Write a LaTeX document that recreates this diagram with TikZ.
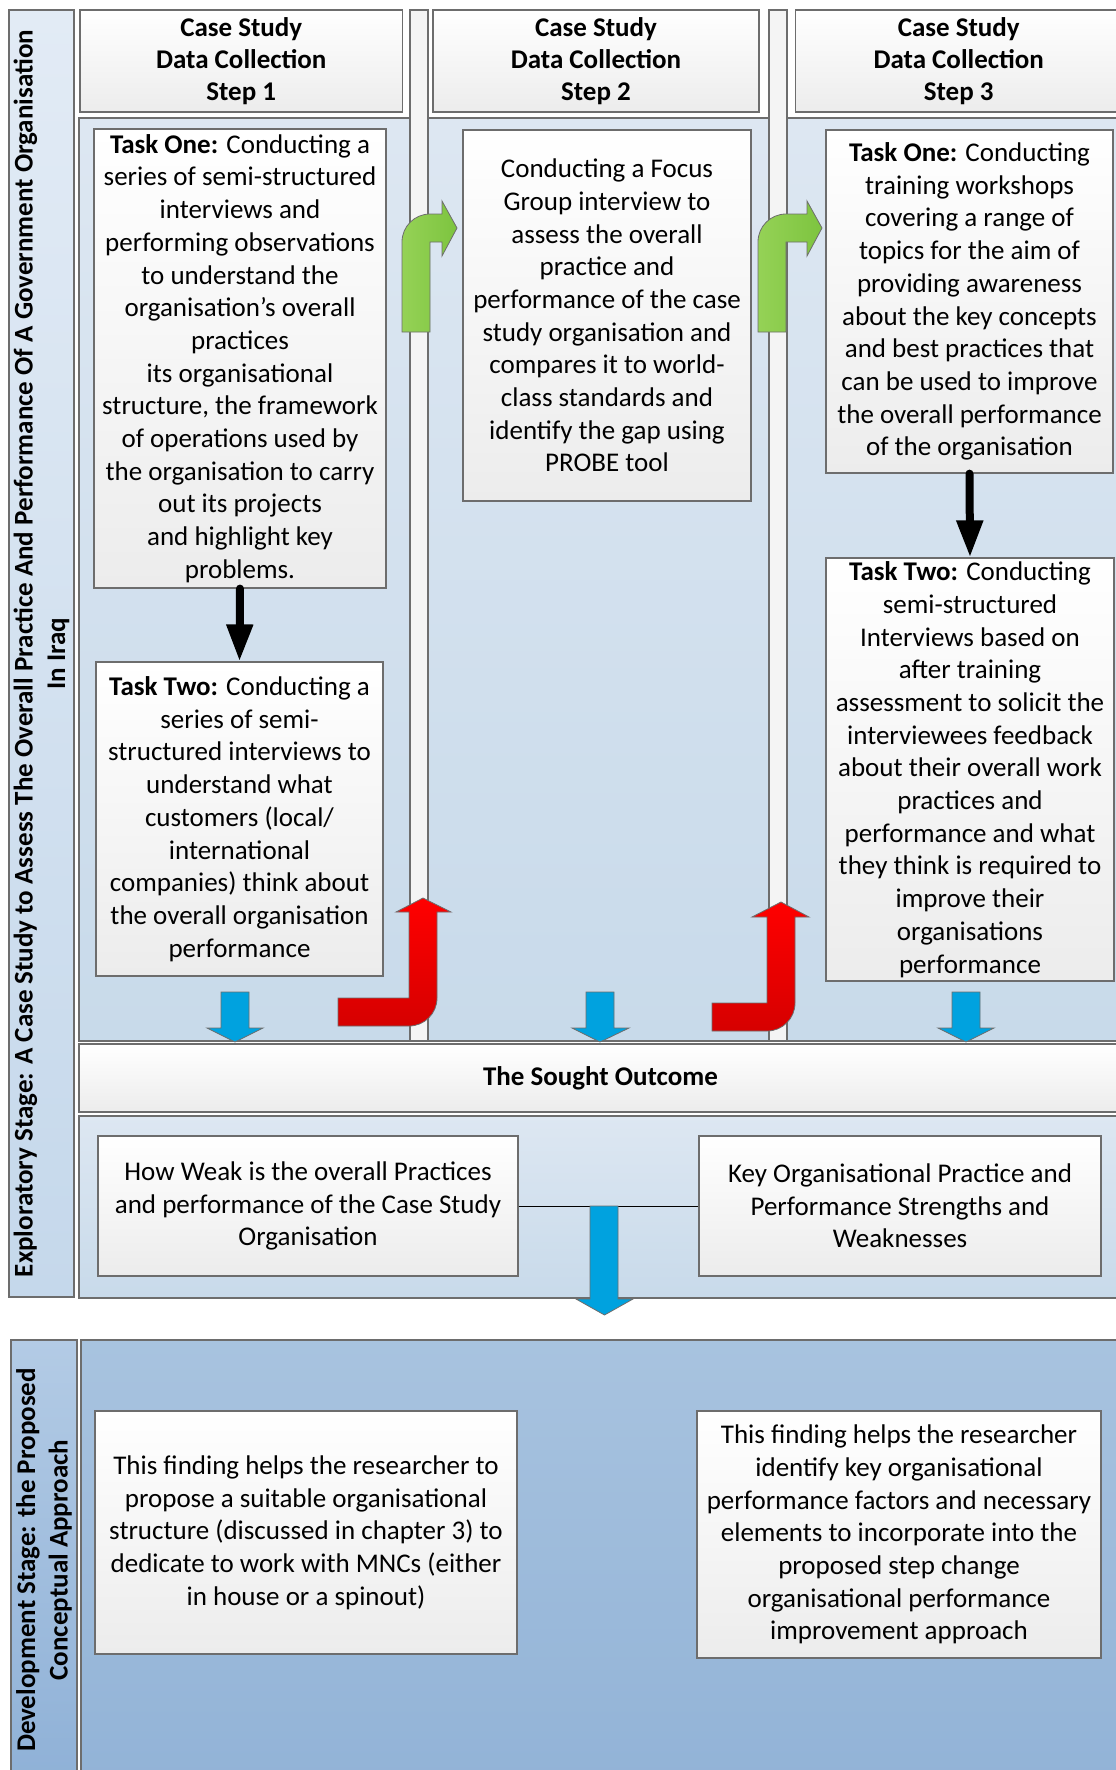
\documentclass[tikz,border=0pt]{standalone}
\usepackage{fontspec}
\setmainfont{Carlito}
\usetikzlibrary{arrows.meta}

\definecolor{edge}{HTML}{6D6D6D}
\definecolor{laneT}{HTML}{DDE7F2}
\definecolor{laneB}{HTML}{C8DAEA}
\definecolor{barL}{HTML}{E2EBF5}
\definecolor{barR}{HTML}{C5D8EB}
\definecolor{devL}{HTML}{B3CBE5}
\definecolor{devR}{HTML}{8FB1D7}
\definecolor{devT}{HTML}{A8C3DF}
\definecolor{devB}{HTML}{92B3D7}
\definecolor{boxT}{HTML}{FFFFFF}
\definecolor{boxB}{HTML}{ECECEC}
\definecolor{sepfill}{HTML}{F4F4F4}
\definecolor{grnL}{HTML}{95D256}
\definecolor{grnR}{HTML}{7DC43F}
\definecolor{redT}{HTML}{FF0000}
\definecolor{redB}{HTML}{D60000}
\definecolor{blu}{HTML}{00A2DF}

\tikzset{
  txt/.style={font=\fontsize{27}{32.7}\selectfont},
  panel/.style={draw=edge, line width=1.2pt},
  card/.style={panel, top color=boxT, bottom color=boxB, inner sep=0pt, align=center, txt},
  headcard/.style={card, font=\fontsize{27}{32.2}\selectfont\bfseries},
  lanefill/.style={panel, top color=laneT, bottom color=laneB},
  sepbar/.style={panel, fill=sepfill},
  stagebar/.style={panel, inner sep=0pt, align=center, font=\fontsize{27}{32.7}\selectfont\bfseries},
  blockarrow/.style={draw=edge, line width=0.8pt, line join=miter},
  linkarrow/.style={line width=8pt, line cap=round, -{Triangle[length=37pt,width=25pt]}},
}

\begin{document}
\begin{tikzpicture}[x=1pt,y=-1pt]
\useasboundingbox (0,0) rectangle (1116,1770);
\clip (0,0) rectangle (1116,1770);
\fill[white] (0,0) rectangle (1116,1770);

% ---------- exploratory stage ----------
\node[stagebar, rotate=90, minimum width=1287pt, minimum height=65pt,
      top color=barL, bottom color=barR] (explab) at (41.5,653.5)
  {Exploratory Stage: A Case Study to Assess The Overall Practice And Performance Of A Government Organisation\\In Iraq};

% lane bodies
\path[lanefill] (79,118) rectangle (410,1041);
\path[lanefill] (428,118) rectangle (769,1041);
\path[lanefill] (787,118) rectangle (1122,1041);

% separators between lanes
\path[sepbar] (410,10) rectangle (428,1041);
\path[sepbar] (769,10) rectangle (787,1041);

% lane headers
\node[headcard, minimum width=322.5pt, minimum height=102pt] (h1) at (241.25,61)
  {Case Study\\Data Collection\\Step 1};
\node[headcard, minimum width=326pt, minimum height=102pt] (h2) at (596,61)
  {Case Study\\Data Collection\\Step 2};
\node[headcard, minimum width=326.5pt, minimum height=102pt] (h3) at (958.75,61)
  {Case Study\\Data Collection\\Step 3};

% step 1 tasks
\node[card, minimum width=292pt, minimum height=459pt] (s1a) at (240,358.5)
  {\textbf{Task One:} Conducting a\\series of semi-structured\\interviews and\\performing observations\\to understand the\\organisation’s overall\\practices\\its organisational\\structure, the framework\\of operations used by\\the organisation to carry\\out its projects\\and highlight key\\problems.};
\node[card, minimum width=287pt, minimum height=314pt] (s1b) at (239.5,819)
  {\textbf{Task Two:} Conducting a\\series of semi-\\structured interviews to\\understand what\\customers (local/\\international\\companies) think about\\the overall organisation\\performance};

% step 2 task
\node[card, minimum width=288pt, minimum height=371pt] (s2a) at (607,315.5)
  {Conducting a Focus\\Group interview to\\assess the overall\\practice and\\performance of the case\\study organisation and\\compares it to world-\\class standards and\\identify the gap using\\PROBE tool};

% step 3 tasks
\node[card, minimum width=287pt, minimum height=343pt] (s3a) at (969.5,301.5)
  {\textbf{Task One:} Conducting\\training workshops\\covering a range of\\topics for the aim of\\providing awareness\\about the key concepts\\and best practices that\\can be used to improve\\the overall performance\\of the organisation};
\node[card, minimum width=288pt, minimum height=423pt] (s3b) at (970,769.5)
  {\textbf{Task Two:} Conducting\\semi-structured\\Interviews based on\\after training\\assessment to solicit the\\interviewees feedback\\about their overall work\\practices and\\performance and what\\they think is required to\\improve their\\organisations\\performance};

% task-to-task links
\draw[linkarrow] (s1a.south) -- (s1b.north);
\draw[linkarrow] (s3a.south) -- (s3b.north);

% green block arrows: step to step
\path[blockarrow, left color=grnL, right color=grnR]
  (402,332) -- (402,242) .. controls (402,226.5) and (414.5,214) .. (430,214)
  -- (442,214) -- (442,201) -- (457,228) -- (442,256) -- (442,242)
  -- (430,242) -- (430,332) -- cycle;
\path[blockarrow, left color=grnL, right color=grnR]
  (758,332) -- (758,242) .. controls (758,226.5) and (770.5,214) .. (786,214)
  -- (807,214) -- (807,201) -- (822,228) -- (807,256) -- (807,242)
  -- (786,242) -- (786,332) -- cycle;

% red block arrows: feedback
\path[blockarrow, top color=redT, bottom color=redB]
  (338,998) -- (409,998) -- (409,912) -- (396,912) -- (423,898) -- (451,912)
  -- (437,912) -- (437,998) .. controls (437,1013.5) and (424.5,1026) .. (409,1026)
  -- (338,1026) -- cycle;
\path[blockarrow, top color=redT, bottom color=redB]
  (712,1003) -- (767,1003) -- (767,917) -- (752,917) -- (781,902) -- (809,917)
  -- (795,917) -- (795,1003) .. controls (795,1018.5) and (782.5,1031) .. (767,1031)
  -- (712,1031) -- cycle;

% sought outcome bar
\node[headcard, minimum width=1043pt, minimum height=68pt] (sought) at (600.5,1078)
  {The Sought Outcome};

% blue block arrows into the outcome
\path[blockarrow, fill=blu]
  (221,992) -- (249,992) -- (249,1028) -- (263,1028) -- (235,1042) -- (207,1028) -- (221,1028) -- cycle;
\path[blockarrow, fill=blu]
  (586,992) -- (614,992) -- (614,1028) -- (629,1028) -- (600,1042) -- (572,1028) -- (586,1028) -- cycle;
\path[blockarrow, fill=blu]
  (952,992) -- (980,992) -- (980,1028) -- (994,1028) -- (966,1042) -- (938,1028) -- (952,1028) -- cycle;

% outcome panel
\path[lanefill] (79,1116) rectangle (1122,1298);
\node[card, minimum width=420pt, minimum height=140pt] (weak) at (308,1206)
  {How Weak is the overall Practices\\and performance of the Case Study\\Organisation};
\node[card, minimum width=402pt, minimum height=140pt] (keyorg) at (900,1206)
  {Key Organisational Practice and\\Performance Strengths and\\Weaknesses};
\draw[line width=1pt] (weak.east) -- (keyorg.west);

% blue block arrow down to the development stage
\path[blockarrow, fill=blu]
  (590,1206) -- (618,1206) -- (618,1299) -- (633,1299) -- (604.5,1315) -- (576,1299) -- (590,1299) -- cycle;

% ---------- development stage ----------
\node[stagebar, rotate=90, minimum width=440pt, minimum height=66pt,
      top color=devL, bottom color=devR] (devlab) at (44,1560)
  {Development Stage: the Proposed\\Conceptual Approach};
\path[panel, top color=devT, bottom color=devB] (81,1340) rectangle (1122,1780);

\node[card, minimum width=422pt, minimum height=243pt] (find1) at (306,1532.5)
  {This finding helps the researcher to\\propose a suitable organisational\\structure (discussed in chapter 3) to\\dedicate to work with MNCs (either\\in house or a spinout)};
\node[card, minimum width=404pt, minimum height=247pt] (find2) at (899,1534.5)
  {This finding helps the researcher\\identify key organisational\\performance factors and necessary\\elements to incorporate into the\\proposed step change\\organisational performance\\improvement approach};
\end{tikzpicture}
\end{document}
